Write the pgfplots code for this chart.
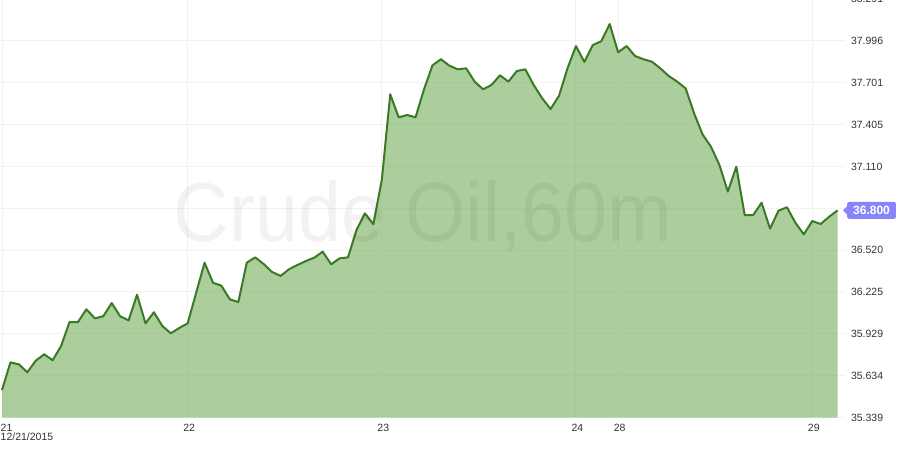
\documentclass[border=0pt]{standalone}
\usepackage{pgfplots}
\pgfplotsset{compat=1.18}
\usepackage{pgfplotstable}
\usepackage{fontspec}
\setmainfont{Liberation Sans}
\definecolor{fillgreen}{RGB}{117,173,90}
\definecolor{linegreen}{RGB}{58,122,36}
\definecolor{pricecol}{RGB}{134,134,250}
\definecolor{labgray}{RGB}{51,51,51}

\pgfplotstableread{
i v
0 35.534
1 35.729
2 35.715
3 35.659
4 35.741
5 35.786
6 35.744
7 35.844
8 36.013
9 36.013
10 36.103
11 36.039
12 36.054
13 36.147
14 36.054
15 36.025
16 36.206
17 36.004
18 36.082
19 35.985
20 35.934
21 35.971
22 36.004
23 36.218
24 36.431
25 36.290
26 36.269
27 36.173
28 36.154
29 36.431
30 36.469
31 36.422
32 36.366
33 36.338
34 36.385
35 36.415
36 36.443
37 36.467
38 36.509
39 36.420
40 36.462
41 36.469
42 36.662
43 36.779
44 36.702
45 37.014
46 37.618
47 37.456
48 37.472
49 37.456
50 37.653
51 37.822
52 37.865
53 37.820
54 37.794
55 37.801
56 37.707
57 37.653
58 37.684
59 37.752
60 37.707
61 37.782
62 37.794
63 37.684
64 37.590
65 37.514
66 37.608
67 37.801
68 37.958
69 37.846
70 37.965
71 37.992
72 38.113
73 37.914
74 37.958
75 37.888
76 37.865
77 37.848
78 37.801
79 37.747
80 37.707
81 37.660
82 37.484
83 37.336
84 37.249
85 37.120
86 36.932
87 37.108
88 36.767
89 36.767
90 36.854
91 36.671
92 36.798
93 36.822
94 36.713
95 36.631
96 36.725
97 36.704
98 36.755
99 36.800
}\crude

\begin{document}
\begin{tikzpicture}
\begin{axis}[
  at={(0pt,0pt)}, anchor=south west,
  scale only axis, width=845pt, height=418.9pt,
  xmin=-0.237, xmax=99.88, ymin=35.339, ymax=38.291,
  axis line style={draw=none},
  major tick length=0pt,
  xtick={0,22,45,68,73,96},
  xticklabels={,22,23,24,28,29},
  ytick={35.339,35.634,35.929,36.225,36.520,36.815,37.110,37.405,37.701,37.996,38.291},
  yticklabels={35.339,35.634,35.929,36.225,36.520,,37.110,37.405,37.701,37.996,38.291},
  yticklabel pos=right,
  grid=major,
  grid style={color=black!5, line width=1pt},
  x tick label style={font=\fontsize{10.5}{12}\selectfont, text=labgray, anchor=base, yshift=-14pt, xshift=1.5pt},
  y tick label style={font=\fontsize{10.5}{12}\selectfont, text=labgray, anchor=west, xshift=2.5pt},
  clip=false,
]
\addplot[draw=none, fill=fillgreen, fill opacity=0.6] table[x=i, y=v] {\crude} \closedcycle;
\addplot[linegreen, line width=2pt, line join=round] table[x=i, y=v] {\crude};
\node[anchor=west, fill=pricecol, text=white, font=\fontsize{12}{14}\selectfont\bfseries,
      rounded corners=2pt, inner xsep=6pt, inner ysep=3pt, minimum height=17pt]
      (lab) at ([xshift=2pt]axis cs:99.88,36.800) {36.800};
\fill[pricecol] ([yshift=4pt]lab.west) -- ([xshift=-4pt]lab.west) -- ([yshift=-4pt]lab.west) -- cycle;
\end{axis}
\node[anchor=base west, inner sep=0pt, align=left, text=labgray,
      font=\fontsize{10.5}{8.8}\selectfont] at (0.5pt,-22.8pt) {21\\12/21/2015};
\node[anchor=base, inner sep=0pt, text=black, opacity=0.05, xscale=0.92,
      font=\fontsize{84}{84}\selectfont] at (423pt,176.7pt) {Crude Oil,60m};
\pgfresetboundingbox
\path[use as bounding box] (0pt,-30.3pt) rectangle (900pt,417.7pt);
\end{tikzpicture}
\end{document}
